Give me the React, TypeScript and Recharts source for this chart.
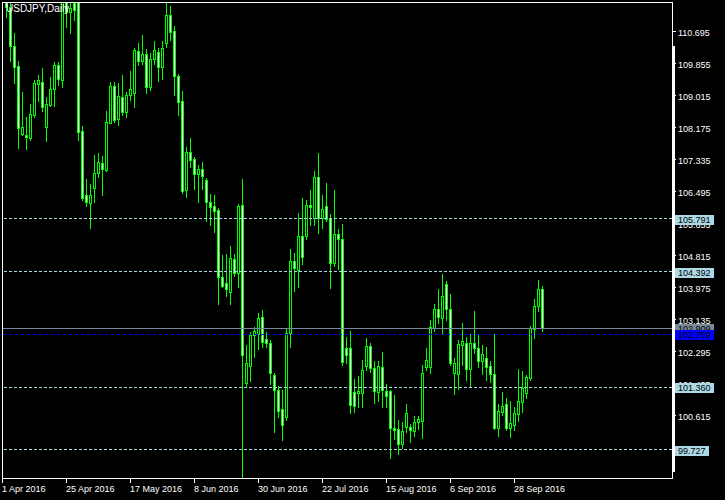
import React from "react";
import { ComposedChart, Bar, XAxis, YAxis, ReferenceLine } from "recharts";

// USDJPY daily, 1 Apr 2016 .. 7 Oct 2016 (bar index 0..135)
const tickBars = [0, 16, 32, 48, 64, 80, 96, 112, 128];
const tickDates = [
  "1 Apr 2016",
  "25 Apr 2016",
  "17 May 2016",
  "8 Jun 2016",
  "30 Jun 2016",
  "22 Jul 2016",
  "15 Aug 2016",
  "6 Sep 2016",
  "28 Sep 2016",
];
const priceTicks = [
  110.695, 109.855, 109.015, 108.175, 107.335, 106.495, 105.655, 104.815, 103.975, 103.135, 102.295,
  101.455, 100.615, 99.775,
];
const levels = [105.791, 104.392, 101.36, 99.727];
const bidPrice = 102.909;
const bluePrice = 102.759;

const opens = [
  112.55, 111.62, 111.34, 110.31, 109.79, 108.02, 107.99, 107.91, 108.51, 109.33, 109.37, 108.2, 108.78, 109.18,
  109.82, 109.43, 111.75, 111.2, 111.45, 111.6, 108.09, 106.41, 106.21, 106.58, 106.98, 107.24, 107.06, 108.31,
  109.27, 108.4, 108.98, 108.59, 109.03, 109.09, 110.19, 109.93, 110.1, 109.24, 109.99, 110.15, 109.76, 110.41,
  111.13, 110.71, 109.53, 108.88, 106.54, 107.53, 107.35, 106.96, 107.09, 106.8, 106.23, 106.12, 106.01, 104.25,
  104.09, 103.87, 104.72, 104.37, 106.15, 101.48, 101.93, 102.73, 102.75, 103.2, 102.62, 102.51, 101.68, 101.29,
  100.78, 100.59, 102.78, 104.68, 104.44, 105.34, 105.33, 106.15, 105.8, 106.87, 105.8, 106.12, 105.8, 104.61,
  105.38, 105.25, 102.38, 102.38, 101.23, 101.22, 101.2, 101.92, 102.44, 101.86, 101.24, 101.9, 101.26, 101.26,
  100.3, 100.26, 99.86, 100.31, 100.31, 100.22, 100.44, 100.48, 101.9, 101.9, 102.92, 103.41, 103.19, 104.06,
  103.41, 101.73, 101.71, 102.47, 102.53, 101.83, 102.53, 102.4, 102.05, 102.12, 101.92, 101.7, 100.3, 100.72,
  100.91, 100.28, 100.37, 100.65, 100.98, 101.2, 101.61, 102.88, 103.49, 103.93,
];
const highs = [
  112.6, 111.75, 111.44, 110.65, 109.93, 109.11, 108.45, 108.8, 109.43, 109.56, 109.73, 108.99, 109.5, 109.91,
  109.91, 111.9, 111.9, 111.6, 111.6, 111.85, 108.22, 106.83, 106.7, 107.46, 107.5, 107.44, 108.61, 109.38,
  109.38, 109.34, 109.56, 109.12, 109.66, 110.26, 110.41, 110.61, 110.23, 110.13, 110.45, 110.26, 110.45, 111.44,
  111.37, 110.84, 109.58, 109.14, 107.68, 107.9, 107.41, 107.19, 107.27, 106.86, 106.43, 106.41, 106.06, 104.83,
  104.86, 105.07, 104.86, 106.17, 106.83, 102.47, 102.82, 102.95, 103.3, 103.39, 102.82, 102.6, 101.74, 101.39,
  101.29, 102.91, 104.98, 104.88, 105.93, 106.32, 106.28, 106.54, 107.04, 107.52, 106.41, 106.73, 105.91, 106.54,
  105.51, 105.65, 102.69, 102.84, 101.58, 101.66, 102.08, 102.65, 102.51, 102.06, 102.05, 102.29, 101.45, 101.29,
  101.16, 100.5, 100.46, 100.92, 100.4, 100.61, 100.61, 101.94, 102.4, 103.13, 103.55, 103.95, 104.33, 104.15,
  103.81, 102.14, 102.6, 103.04, 102.67, 102.76, 103.36, 102.76, 102.47, 102.43, 102.05, 102.76, 100.92, 101.24,
  101.09, 101.0, 100.83, 101.84, 101.8, 101.68, 102.97, 103.68, 104.17, 104.02,
];
const lows = [
  111.5, 111.09, 109.93, 109.34, 107.65, 107.98, 107.62, 107.85, 108.46, 108.88, 108.61, 107.83, 108.74, 108.74,
  109.3, 109.25, 110.83, 110.67, 110.99, 107.85, 106.28, 106.13, 105.55, 106.23, 106.87, 106.41, 107.05, 108.29,
  108.33, 108.24, 108.51, 108.46, 108.9, 108.73, 109.82, 109.85, 109.09, 109.16, 109.86, 109.41, 109.45, 110.3,
  110.48, 109.03, 108.51, 106.47, 106.36, 107.15, 106.56, 106.23, 106.56, 105.73, 105.62, 105.43, 103.54, 103.99,
  103.76, 103.55, 104.28, 104.0, 99.0, 101.38, 101.53, 102.16, 102.36, 102.43, 102.41, 101.44, 100.19, 100.59,
  99.98, 100.5, 102.43, 103.9, 103.98, 104.6, 105.25, 105.62, 105.62, 105.42, 105.55, 105.73, 103.97, 104.54,
  104.47, 101.95, 102.0, 100.68, 100.72, 100.85, 100.85, 101.81, 101.77, 100.94, 100.99, 100.83, 100.85, 99.51,
  99.99, 99.6, 99.76, 100.19, 99.93, 100.09, 100.27, 100.04, 101.81, 101.74, 102.84, 103.06, 102.79, 103.13,
  101.95, 101.18, 101.31, 101.95, 101.55, 101.4, 102.25, 101.9, 101.71, 101.55, 101.51, 100.27, 100.09, 100.63,
  100.24, 100.05, 100.24, 100.48, 100.7, 101.09, 101.55, 102.66, 103.35, 102.84,
];
const closes = [
  111.6, 111.35, 110.33, 109.78, 108.17, 108.19, 107.94, 108.53, 109.35, 109.42, 108.73, 108.81, 109.18, 109.82,
  109.46, 111.75, 111.22, 111.31, 111.26, 108.07, 106.34, 106.22, 106.41, 106.98, 107.27, 107.08, 108.32, 109.27,
  108.38, 109.01, 108.59, 109.03, 109.19, 110.21, 109.93, 110.1, 109.24, 109.99, 110.21, 109.76, 110.26, 111.13,
  110.7, 109.53, 108.86, 106.51, 107.54, 107.33, 106.96, 107.09, 106.91, 106.23, 106.1, 105.99, 104.25, 104.03,
  103.93, 104.75, 104.37, 106.12, 102.21, 101.99, 102.73, 102.84, 103.17, 102.54, 102.51, 101.73, 101.29, 100.75,
  100.37, 102.78, 104.68, 104.48, 105.33, 104.79, 106.15, 106.1, 106.87, 105.8, 106.03, 105.78, 104.61, 105.38,
  105.25, 102.03, 102.21, 100.9, 100.87, 101.27, 101.81, 102.44, 101.86, 101.25, 101.93, 101.29, 101.13, 100.28,
  100.24, 99.86, 100.21, 100.68, 100.24, 100.44, 100.53, 101.73, 102.08, 102.95, 103.41, 103.21, 103.76, 103.41,
  102.01, 101.99, 102.49, 102.58, 101.83, 102.53, 102.4, 102.05, 102.23, 101.9, 101.7, 100.3, 100.75, 100.87,
  100.3, 100.41, 100.68, 101.01, 101.33, 101.64, 102.91, 103.49, 103.93, 102.91,
];

const data = opens.map((o, i) => ({
  idx: i,
  open: o,
  high: highs[i],
  low: lows[i],
  close: closes[i],
  range: [lows[i], highs[i]],
}));

const GREEN = "#00ff00";
const FONT = "'Liberation Sans', Arial, sans-serif";
const X_DOMAIN = [-0.125, 167.375];
const Y_DOMAIN = [98.953, 111.4745];
const MARGIN = { top: 2, right: 0, bottom: 0, left: 2 };

function Candle(props: any) {
  const { x, y, width, height, payload } = props;
  if (x == null || y == null) return null;
  const { open, close, high, low } = payload;
  const top = Math.min(y, y + height);
  const h = Math.abs(height);
  const py = (v: number) => top + ((high - v) / (high - low)) * h;
  const cx = Math.floor(x + width / 2) + 0.5;
  const bTop = Math.round(py(Math.max(open, close)));
  const bBot = Math.round(py(Math.min(open, close)));
  const bull = close >= open;
  return (
    <g shapeRendering="crispEdges">
      <line x1={cx} x2={cx} y1={Math.round(py(high))} y2={Math.round(py(low)) + 1} stroke={GREEN} strokeWidth={1} />
      <rect
        x={cx - 1}
        y={bTop + 0.5}
        width={2}
        height={Math.max(bBot - bTop, 0)}
        fill={bull ? "#000" : "#fff"}
        stroke={GREEN}
        strokeWidth={1}
      />
    </g>
  );
}

function DateTick(props: any) {
  const { x, y, payload } = props;
  const i = tickBars.indexOf(payload.value);
  return (
    <text x={Math.floor(x)} y={y + 7} fill="#fff" fontSize={9} fontFamily={FONT} textAnchor="start">
      {tickDates[i] ?? ""}
    </text>
  );
}

function PriceTick(props: any) {
  const { x, y, payload } = props;
  return (
    <text x={x} y={Math.round(y) + 3.5} fill="#fff" fontSize={9} fontFamily={FONT} textAnchor="start">
      {Number(payload.value).toFixed(3)}
    </text>
  );
}

function priceBox(text: string, bg: string, fg: string) {
  return (p: any) => {
    const vb = p.viewBox || {};
    const yc = Math.round(vb.y);
    const x0 = vb.x + vb.width + 3;
    const w = text.replace(".", "").length * 5 + 2.5 + 6;
    return (
      <g shapeRendering="crispEdges">
        <rect x={x0} y={yc - 4} width={w} height={10} fill={bg} />
        <text x={x0 + 3} y={yc + 4} fill={fg} fontSize={9} fontFamily={FONT}>
          {text}
        </text>
      </g>
    );
  };
}

export default function App() {
  return (
    <div style={{ position: "fixed", left: 0, top: 0, width: 725, height: 500, background: "#000" }}>
      <ComposedChart width={725} height={500} data={data} margin={MARGIN}>
        <XAxis
          type="number"
          dataKey="idx"
          domain={X_DOMAIN}
          allowDataOverflow
          ticks={tickBars}
          height={21}
          axisLine={false}
          tickLine={{ stroke: "#fff", shapeRendering: "crispEdges" }}
          tickSize={4}
          tick={<DateTick />}
          interval={0}
        />
        <YAxis
          orientation="right"
          type="number"
          domain={Y_DOMAIN}
          allowDataOverflow
          ticks={priceTicks}
          width={53}
          axisLine={false}
          tickLine={{ stroke: "#fff", shapeRendering: "crispEdges" }}
          tickSize={4}
          tick={<PriceTick />}
          interval={0}
        />
        <Bar dataKey="range" barSize={3} isAnimationActive={false} shape={(p: any) => <Candle {...p} />} />
        {levels.map((lv) => (
          <ReferenceLine key={lv} y={lv} stroke="#add8e6" strokeDasharray="3 2" shapeRendering="crispEdges" />
        ))}
        <ReferenceLine y={bidPrice} stroke="#778899" shapeRendering="crispEdges" />
        <ReferenceLine y={bluePrice} stroke="#0000ff" strokeDasharray="3 3" shapeRendering="crispEdges" />
      </ComposedChart>

      {/* price tags sit above the axis labels, same scales */}
      <div style={{ position: "absolute", left: 0, top: 0, pointerEvents: "none" }}>
        <ComposedChart width={725} height={500} data={data} margin={MARGIN}>
          <XAxis type="number" dataKey="idx" domain={X_DOMAIN} allowDataOverflow height={21} hide={false} tick={false} tickLine={false} axisLine={false} />
          <YAxis
            orientation="right"
            type="number"
            domain={Y_DOMAIN}
            allowDataOverflow
            width={53}
            tick={false}
            tickLine={false}
            axisLine={false}
          />
          {levels.map((lv) => (
            <ReferenceLine
              key={lv}
              y={lv}
              stroke="none"
              label={priceBox(lv.toFixed(3), "#add8e6", "#000")}
            />
          ))}
          <ReferenceLine y={bidPrice} stroke="none" label={priceBox(bidPrice.toFixed(3), "#778899", "#000")} />
          <ReferenceLine y={bluePrice} stroke="none" label={priceBox(bluePrice.toFixed(3), "#0000ff", "#000")} />
        </ComposedChart>
      </div>

      <div
        style={{
          position: "absolute",
          left: 2,
          top: 2,
          width: 669,
          height: 475,
          border: "1px solid #fff",
          pointerEvents: "none",
        }}
      />
      <div style={{ position: "absolute", left: 672, top: 46, width: 3, height: 426, background: "#fff" }} />
      <div
        style={{
          position: "absolute",
          left: 6,
          top: 3,
          color: "#fff",
          fontFamily: FONT,
          fontSize: 10,
          lineHeight: "12px",
        }}
      >
        USDJPY,Daily
      </div>
    </div>
  );
}
